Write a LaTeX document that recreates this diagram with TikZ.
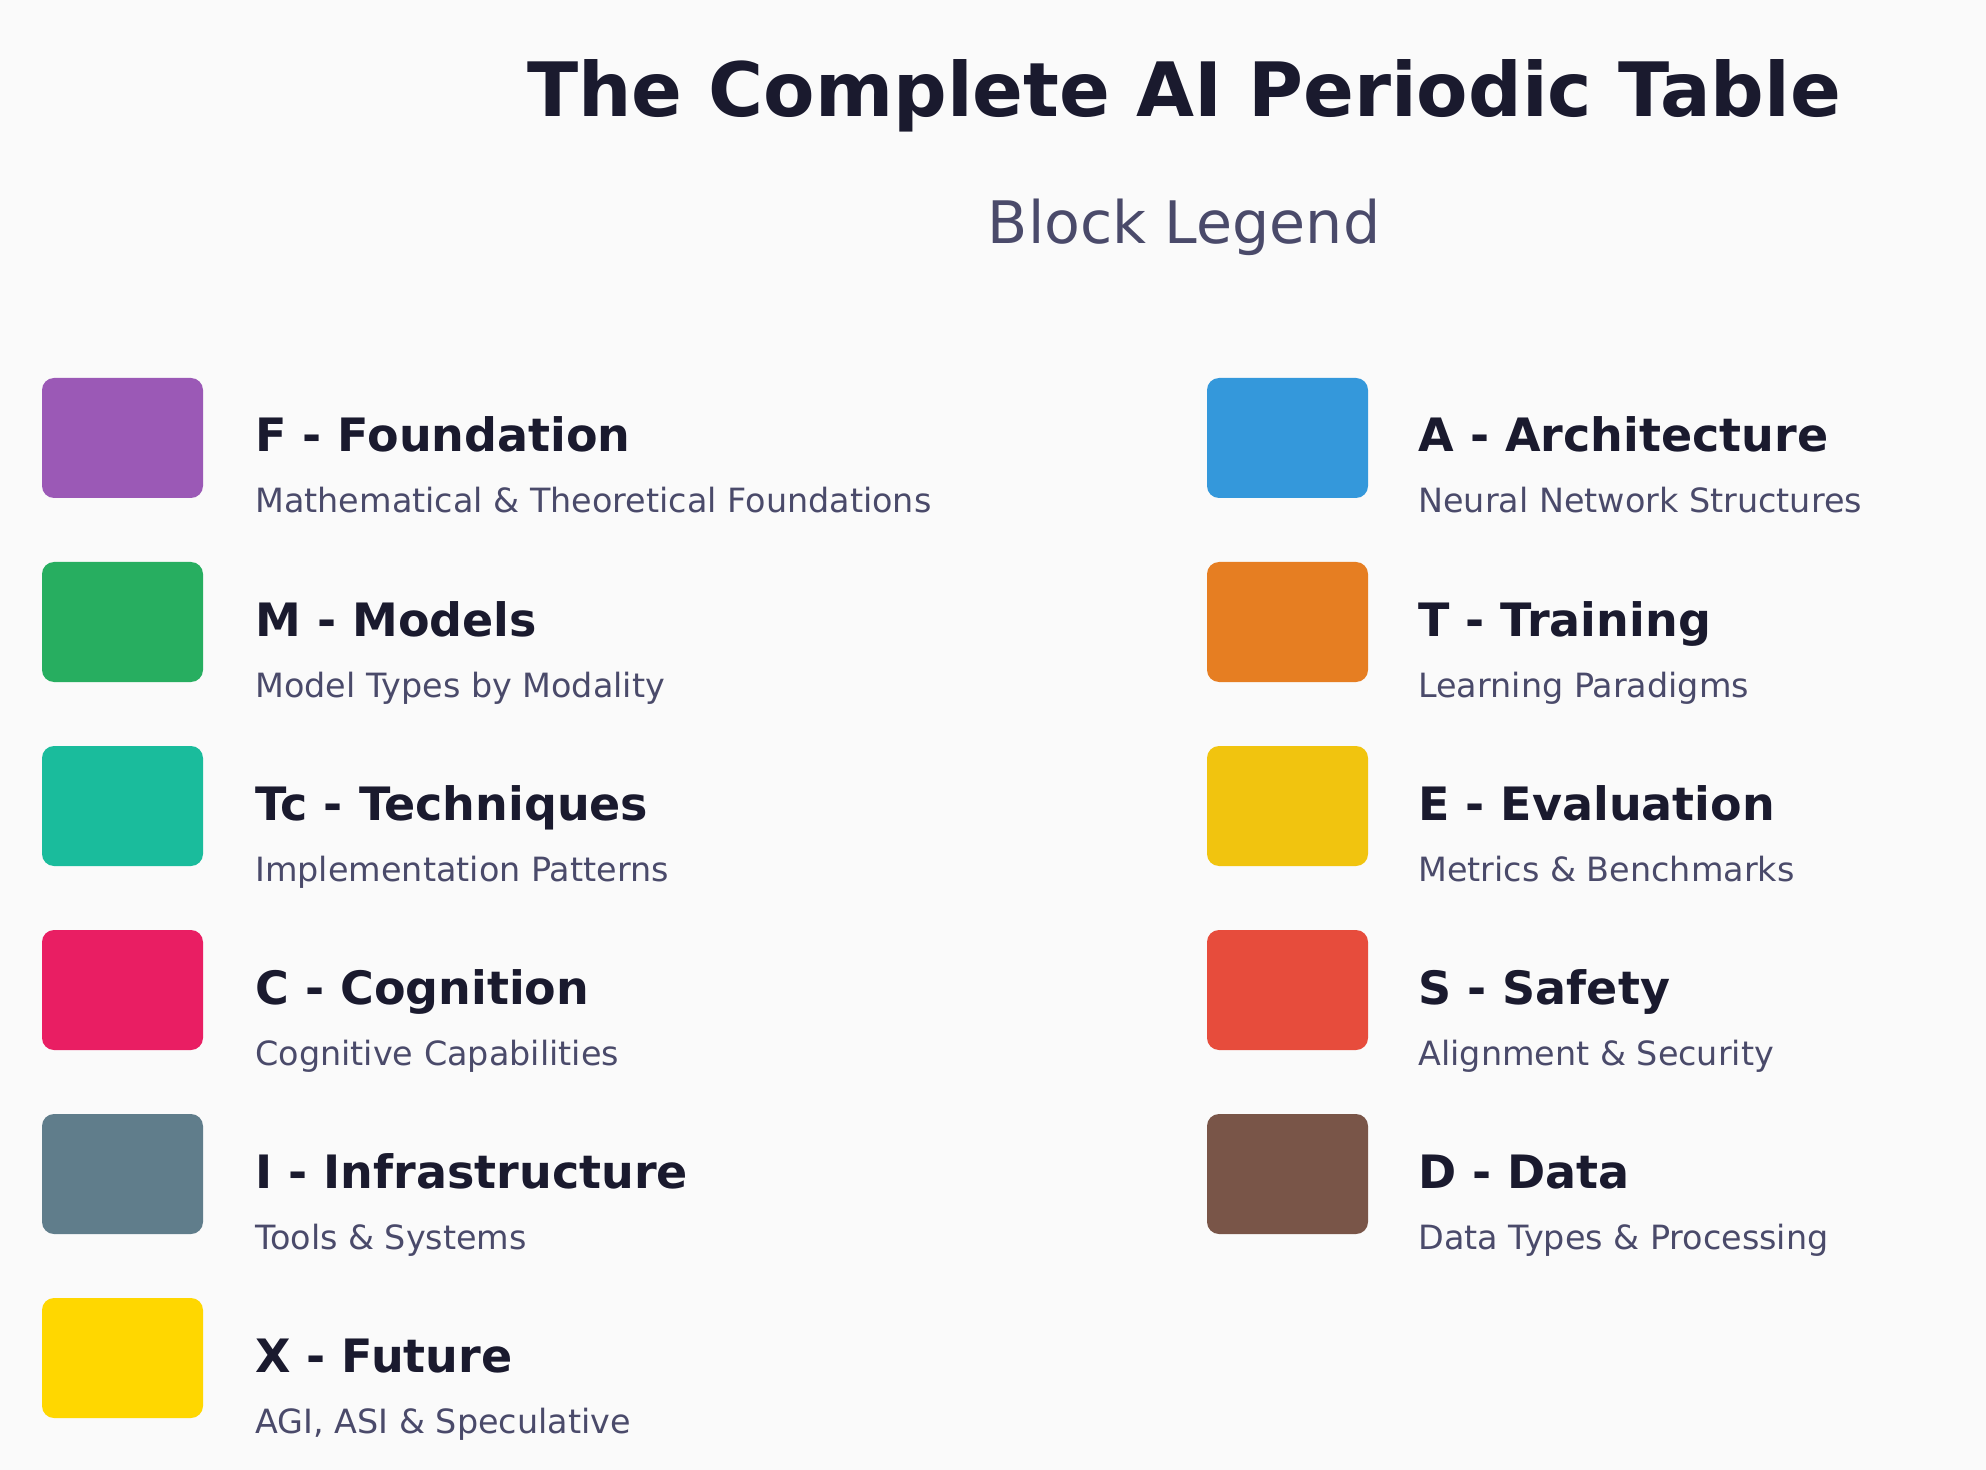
\documentclass[tikz,border=0pt]{standalone}
\usepackage{fontspec}
\setmainfont{DejaVu Sans}
\usepackage{xcolor}
\usetikzlibrary{positioning,calc}
\definecolor{bgpage}{HTML}{FAFAFA}
\definecolor{inkdark}{HTML}{1A1A2E}
\definecolor{inksoft}{HTML}{4A4A6A}
\definecolor{cfound}{HTML}{9B59B6}
\definecolor{cmodel}{HTML}{27AE60}
\definecolor{ctech}{HTML}{1ABC9C}
\definecolor{ccogn}{HTML}{E91E63}
\definecolor{cinfra}{HTML}{607D8B}
\definecolor{cfuture}{HTML}{FFD700}
\definecolor{carch}{HTML}{3498DB}
\definecolor{ctrain}{HTML}{E67E22}
\definecolor{ceval}{HTML}{F1C40F}
\definecolor{csafe}{HTML}{E74C3C}
\definecolor{cdata}{HTML}{795548}

\begin{document}
\begin{tikzpicture}[x=0.5pt,y=-0.5pt,
 swatch/.style={rounded corners=6pt,minimum width=80.5pt,minimum height=60pt,inner sep=0pt},
 head/.style={anchor=base west,inner sep=0pt,text=inkdark,font=\fontsize{23}{27}\selectfont\bfseries},
 sub/.style={anchor=base west,inner sep=0pt,text=inksoft,font=\fontsize{16.7}{20}\selectfont}]
\useasboundingbox[fill=bgpage] (0,0) rectangle (1986,1470);
\node[anchor=base,inner sep=0pt,text=inkdark,font=\fontsize{37.5}{44}\selectfont\bfseries] (title) at (1184,117) {The Complete AI Periodic Table};
\node[anchor=base,inner sep=0pt,text=inksoft,font=\fontsize{29.3}{34}\selectfont] (legend) at (1184,244) {Block Legend};
% left column
\node[swatch,fill=cfound] (f) at (122.5,438) {};
\node[head] (fh) at (255,452) {F - Foundation};
\node[sub] (fs) at (255,513) {Mathematical \& Theoretical Foundations};
\node[swatch,fill=cmodel] (m) at (122.5,622) {};
\node[head] (mh) at (255,636) {M - Models};
\node[sub] (ms) at (255,697) {Model Types by Modality};
\node[swatch,fill=ctech] (tc) at (122.5,806) {};
\node[head] (tch) at (255,820) {Tc - Techniques};
\node[sub] (tcs) at (255,881) {Implementation Patterns};
\node[swatch,fill=ccogn] (c) at (122.5,990) {};
\node[head] (ch) at (255,1004) {C - Cognition};
\node[sub] (cs) at (255,1065) {Cognitive Capabilities};
\node[swatch,fill=cinfra] (i) at (122.5,1174) {};
\node[head] (ih) at (255,1188) {I - Infrastructure};
\node[sub] (is) at (255,1249) {Tools \& Systems};
\node[swatch,fill=cfuture] (x) at (122.5,1358) {};
\node[head] (xh) at (255,1372) {X - Future};
\node[sub] (xs) at (255,1433) {AGI, ASI \& Speculative};
% right column
\node[swatch,fill=carch] (a) at (1287.5,438) {};
\node[head] (ah) at (1418,452) {A - Architecture};
\node[sub] (as) at (1418,513) {Neural Network Structures};
\node[swatch,fill=ctrain] (t) at (1287.5,622) {};
\node[head] (th) at (1418,636) {T - Training};
\node[sub] (ts) at (1418,697) {Learning Paradigms};
\node[swatch,fill=ceval] (e) at (1287.5,806) {};
\node[head] (eh) at (1418,820) {E - Evaluation};
\node[sub] (es) at (1418,881) {Metrics \& Benchmarks};
\node[swatch,fill=csafe] (s) at (1287.5,990) {};
\node[head] (sh) at (1418,1004) {S - Safety};
\node[sub] (ss) at (1418,1065) {Alignment \& Security};
\node[swatch,fill=cdata] (d) at (1287.5,1174) {};
\node[head] (dh) at (1418,1188) {D - Data};
\node[sub] (ds) at (1418,1249) {Data Types \& Processing};
\end{tikzpicture}
\end{document}
